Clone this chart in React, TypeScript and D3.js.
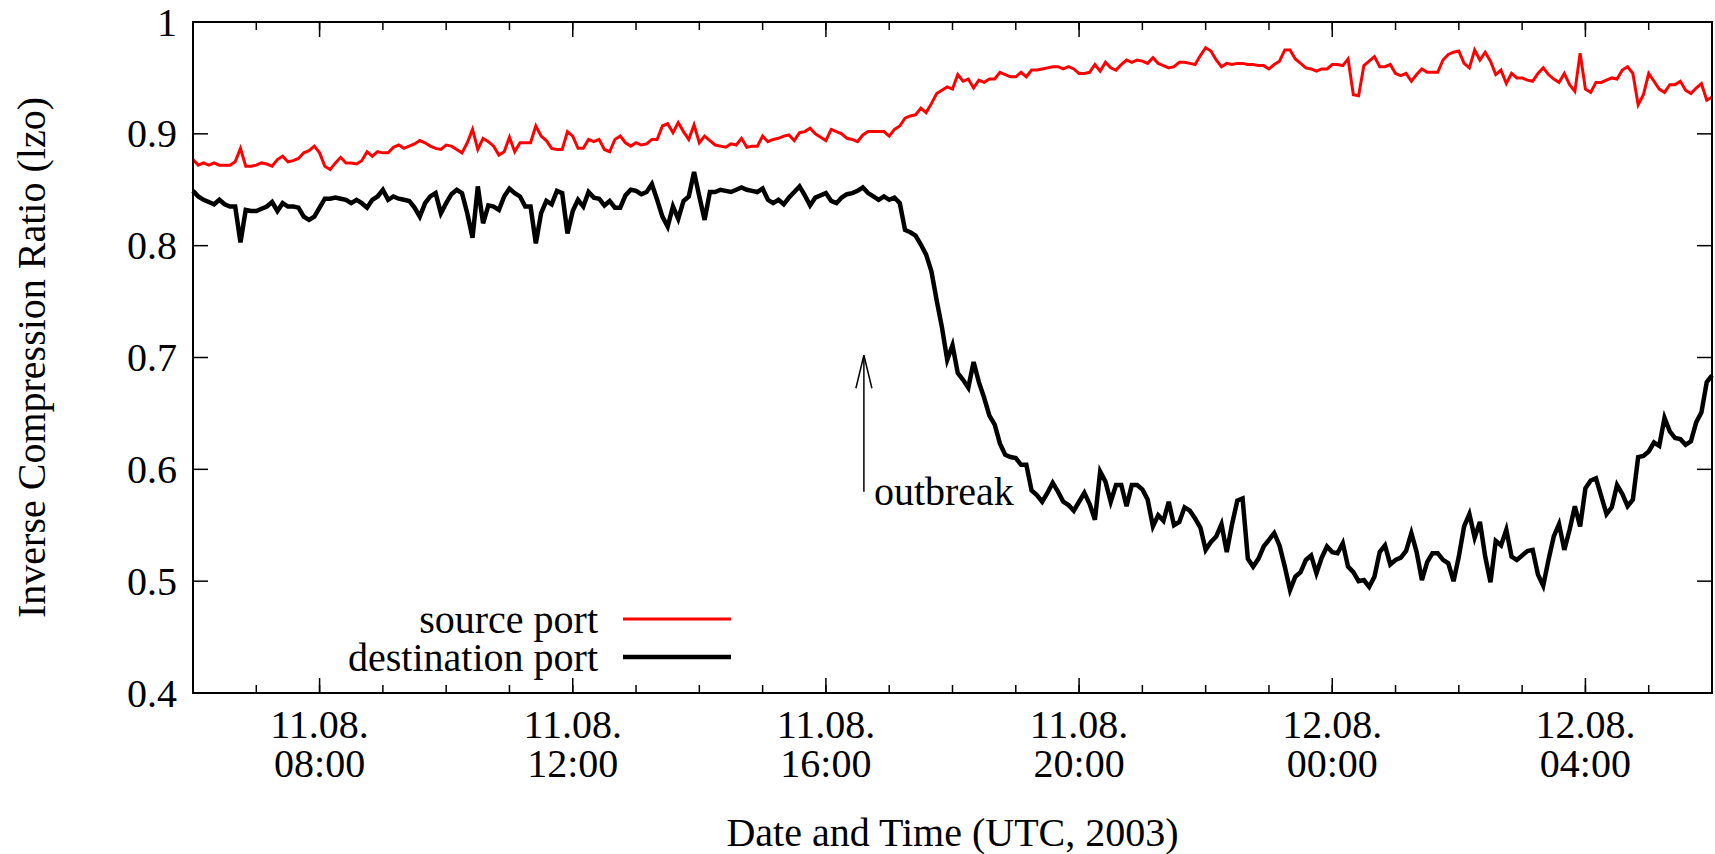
import React from "react";
import * as d3 from "d3";

// samples every 5 minutes, 11.08.2003 06:00 UTC .. 12.08.2003 06:00 UTC
const startTime = Date.UTC(2003, 7, 11, 6, 0);
const endTime = Date.UTC(2003, 7, 12, 6, 0);
const stepMinutes = 5;

const sourcePort = [
  0.877, 0.872, 0.874, 0.872, 0.874, 0.872, 0.872, 0.872, 0.875, 0.887,
  0.871, 0.871, 0.872, 0.874, 0.873, 0.871, 0.877, 0.880, 0.875, 0.876,
  0.878, 0.883, 0.885, 0.889, 0.883, 0.871, 0.868, 0.874, 0.879, 0.874,
  0.874, 0.873, 0.876, 0.884, 0.880, 0.884, 0.883, 0.883, 0.888, 0.890,
  0.887, 0.889, 0.891, 0.894, 0.892, 0.889, 0.887, 0.886, 0.890,
  0.889, 0.886, 0.883, 0.892, 0.904, 0.886, 0.896, 0.893, 0.889, 0.881,
  0.884, 0.897, 0.884, 0.892, 0.892, 0.892, 0.907, 0.898, 0.894, 0.887,
  0.886, 0.886, 0.902, 0.898, 0.887, 0.887, 0.895, 0.893, 0.895, 0.886,
  0.884, 0.895, 0.898, 0.892, 0.889, 0.892, 0.890, 0.891, 0.895, 0.895,
  0.907, 0.909, 0.901, 0.910, 0.902, 0.895, 0.908, 0.892, 0.898,
  0.894, 0.890, 0.889, 0.888, 0.891, 0.890, 0.896, 0.888, 0.889, 0.889,
  0.898, 0.893, 0.895, 0.896, 0.898, 0.899, 0.894, 0.901, 0.902, 0.905,
  0.900, 0.897, 0.894, 0.904, 0.902, 0.900, 0.896, 0.895, 0.893, 0.899,
  0.902, 0.902, 0.902, 0.902, 0.898, 0.904, 0.907, 0.914, 0.916, 0.917,
  0.923, 0.919, 0.927, 0.936, 0.939, 0.942, 0.940, 0.953,
  0.947, 0.949, 0.941, 0.948, 0.946, 0.949, 0.949, 0.955, 0.953, 0.951,
  0.951, 0.955, 0.951, 0.957, 0.957, 0.958, 0.959, 0.960, 0.960, 0.958,
  0.960, 0.958, 0.954, 0.954, 0.955, 0.962, 0.956, 0.964, 0.959, 0.957,
  0.962, 0.966, 0.964, 0.966, 0.965, 0.963, 0.968, 0.963, 0.961, 0.959,
  0.960, 0.964, 0.964, 0.963, 0.962, 0.970, 0.977, 0.974,
  0.966, 0.960, 0.963, 0.962, 0.963, 0.963, 0.962, 0.962, 0.961, 0.961,
  0.958, 0.962, 0.965, 0.975, 0.975, 0.967, 0.963, 0.959, 0.958, 0.956,
  0.958, 0.958, 0.962, 0.962, 0.961, 0.967, 0.935, 0.934, 0.961, 0.965,
  0.969, 0.960, 0.960, 0.962, 0.954, 0.952, 0.954, 0.947, 0.953, 0.958,
  0.955, 0.955, 0.955, 0.966, 0.971, 0.973, 0.974, 0.963,
  0.959, 0.975, 0.966, 0.973, 0.965, 0.953, 0.957, 0.945, 0.954, 0.950,
  0.950, 0.948, 0.947, 0.954, 0.959, 0.953, 0.949, 0.946, 0.954, 0.944,
  0.938, 0.972, 0.940, 0.937, 0.946, 0.946, 0.948, 0.950, 0.949, 0.957,
  0.960, 0.954, 0.926, 0.935, 0.954, 0.947, 0.940, 0.937, 0.944, 0.944,
  0.947, 0.939, 0.936, 0.941, 0.945, 0.930, 0.933,
];

const destinationPort = [
  0.849, 0.844, 0.841, 0.839, 0.837, 0.841, 0.837, 0.835, 0.835, 0.803,
  0.832, 0.831, 0.831, 0.833, 0.835, 0.839, 0.831, 0.838, 0.835, 0.835,
  0.834, 0.826, 0.823, 0.826, 0.834, 0.842, 0.842, 0.843, 0.842, 0.841,
  0.838, 0.841, 0.838, 0.834, 0.841, 0.844, 0.850, 0.841, 0.844, 0.842,
  0.841, 0.840, 0.834, 0.826, 0.838, 0.844, 0.847, 0.829, 0.838,
  0.846, 0.850, 0.847, 0.829, 0.807, 0.853, 0.820, 0.836, 0.835, 0.832,
  0.844, 0.851, 0.847, 0.844, 0.835, 0.835, 0.802, 0.829, 0.840, 0.837,
  0.849, 0.847, 0.811, 0.831, 0.841, 0.835, 0.848, 0.843, 0.842, 0.836,
  0.840, 0.834, 0.834, 0.845, 0.850, 0.849, 0.846, 0.848, 0.855, 0.841,
  0.826, 0.817, 0.835, 0.824, 0.840, 0.844, 0.866, 0.844, 0.823,
  0.848, 0.848, 0.850, 0.849, 0.848, 0.850, 0.852, 0.850, 0.849, 0.848,
  0.851, 0.841, 0.838, 0.841, 0.837, 0.843, 0.848, 0.853, 0.845, 0.836,
  0.843, 0.845, 0.847, 0.840, 0.838, 0.843, 0.846, 0.847, 0.849, 0.852,
  0.847, 0.844, 0.841, 0.844, 0.841, 0.843, 0.838, 0.814, 0.812, 0.809,
  0.801, 0.792, 0.777, 0.751, 0.727, 0.698, 0.711, 0.686,
  0.680, 0.673, 0.696, 0.678, 0.664, 0.648, 0.640,
  0.623, 0.613, 0.611, 0.610, 0.604, 0.604, 0.581, 0.577, 0.571, 0.579,
  0.588, 0.580, 0.571, 0.568, 0.563, 0.571, 0.579, 0.569, 0.555, 0.598,
  0.589, 0.571, 0.586, 0.586, 0.567, 0.586, 0.586, 0.582, 0.573, 0.549,
  0.559, 0.554, 0.571, 0.550, 0.553, 0.566, 0.563, 0.556, 0.548, 0.528,
  0.535, 0.540,
  0.551, 0.526, 0.551, 0.572, 0.574, 0.520, 0.513, 0.520, 0.531, 0.537,
  0.543, 0.532, 0.513, 0.492, 0.504, 0.508, 0.519, 0.523, 0.507, 0.521,
  0.531, 0.526, 0.525, 0.534, 0.513, 0.508, 0.500, 0.501, 0.495, 0.504,
  0.526, 0.532, 0.515, 0.519, 0.521, 0.527, 0.543, 0.526, 0.501, 0.517,
  0.525, 0.525, 0.519, 0.516, 0.500, 0.522, 0.549, 0.560,
  0.539, 0.553, 0.522, 0.499, 0.536, 0.532, 0.546, 0.522, 0.519, 0.523,
  0.527, 0.528, 0.506, 0.496, 0.519, 0.540, 0.551, 0.528, 0.546, 0.567,
  0.549, 0.583, 0.590, 0.592, 0.576, 0.560, 0.566, 0.586, 0.578, 0.567,
  0.573, 0.611, 0.612, 0.616, 0.624, 0.621, 0.646, 0.634, 0.628, 0.627,
  0.622, 0.625, 0.642, 0.651, 0.678, 0.684,
];

const yTicks = [0.4, 0.5, 0.6, 0.7, 0.8, 0.9, 1];
const yLabels = ["0.4", "0.5", "0.6", "0.7", "0.8", "0.9", "1"];

// outbreak marker: time and arrow span in data units
const outbreakTime = Date.UTC(2003, 7, 11, 16, 36);
const outbreakFrom = 0.58;
const outbreakTo = 0.702;

const W = 1715;
const H = 854;
const margin = { top: 22, right: 3, bottom: 161, left: 193 };
const FONT = "'Liberation Serif', 'Times New Roman', serif";
const FS = 40;

export default function App() {
  const x = d3
    .scaleUtc()
    .domain([new Date(startTime), new Date(endTime)])
    .range([margin.left, W - margin.right]);
  const y = d3.scaleLinear().domain([0.4, 1]).range([H - margin.bottom, margin.top]);

  const t = (i: number) => new Date(startTime + i * stepMinutes * 60000);
  const line = d3
    .line<number>()
    .x((_, i) => x(t(i)))
    .y(d => y(d));

  const majorTicks = d3.utcHour.every(4)!.range(new Date(startTime + 1), new Date(endTime));
  const minorTicks = d3.utcHour.every(1)!.range(new Date(startTime + 1), new Date(endTime));
  const fmtDate = d3.utcFormat("%d.%m.");
  const fmtTime = d3.utcFormat("%H:%M");

  const [x0, x1] = x.range();
  const [yb, yt] = y.range();

  const legend = [
    { label: "source port", color: "#ff0000", width: 3, y: 619 },
    { label: "destination port", color: "#000000", width: 4.5, y: 657 },
  ];

  const ax = x(new Date(outbreakTime));
  const ayTop = y(outbreakTo);
  const ayBot = y(outbreakFrom);

  return (
    <svg
      width={W}
      height={H}
      style={{ position: "absolute", left: 0, top: 0, background: "#fff" }}
      fontFamily={FONT}
      fontSize={FS}
    >
      {/* minor x ticks */}
      {minorTicks.map((d, i) => (
        <g key={"m" + i} stroke="#000" strokeWidth={1.5}>
          <line x1={x(d)} x2={x(d)} y1={yb} y2={yb - 8} />
          <line x1={x(d)} x2={x(d)} y1={yt} y2={yt + 8} />
        </g>
      ))}
      {/* major x ticks + labels */}
      {majorTicks.map((d, i) => (
        <g key={"x" + i}>
          <line x1={x(d)} x2={x(d)} y1={yb} y2={yb - 15} stroke="#000" strokeWidth={1.5} />
          <line x1={x(d)} x2={x(d)} y1={yt} y2={yt + 15} stroke="#000" strokeWidth={1.5} />
          <text x={x(d)} y={724} textAnchor="middle" dominantBaseline="central">
            {fmtDate(d)}
          </text>
          <text x={x(d)} y={763} textAnchor="middle" dominantBaseline="central">
            {fmtTime(d)}
          </text>
        </g>
      ))}
      {/* y ticks + labels */}
      {yTicks.map((v, i) => (
        <g key={"y" + i}>
          <line x1={x0} x2={x0 + 15} y1={y(v)} y2={y(v)} stroke="#000" strokeWidth={1.5} />
          <line x1={x1} x2={x1 - 15} y1={y(v)} y2={y(v)} stroke="#000" strokeWidth={1.5} />
          <text x={177} y={y(v)} textAnchor="end" dominantBaseline="central">
            {yLabels[i]}
          </text>
        </g>
      ))}

      {/* series */}
      <path d={line(sourcePort) ?? ""} fill="none" stroke="#ff0000" strokeWidth={3} strokeLinejoin="miter" />
      <path d={line(destinationPort) ?? ""} fill="none" stroke="#000" strokeWidth={4.5} strokeLinejoin="miter" />

      {/* outbreak annotation */}
      <g stroke="#000" strokeWidth={1.5} fill="none">
        <line x1={ax} x2={ax} y1={ayBot} y2={ayTop} />
        <polyline points={`${ax - 8},${ayTop + 33} ${ax},${ayTop} ${ax + 8},${ayTop + 33}`} />
      </g>
      <text x={ax + 10} y={ayBot} dominantBaseline="central">
        outbreak
      </text>

      {/* legend */}
      {legend.map(l => (
        <g key={l.label}>
          <text x={598} y={l.y} textAnchor="end" dominantBaseline="central">
            {l.label}
          </text>
          <line x1={623} x2={731} y1={l.y} y2={l.y} stroke={l.color} strokeWidth={l.width} />
        </g>
      ))}

      {/* frame */}
      <rect x={x0} y={yt} width={x1 - x0} height={yb - yt} fill="none" stroke="#000" strokeWidth={2} />

      {/* axis titles */}
      <text x={(x0 + x1) / 2} y={846} textAnchor="middle">
        Date and Time (UTC, 2003)
      </text>
      <text
        transform={`translate(31, ${(yt + yb) / 2}) rotate(-90)`}
        textAnchor="middle"
        dominantBaseline="central"
      >
        Inverse Compression Ratio (lzo)
      </text>
    </svg>
  );
}
